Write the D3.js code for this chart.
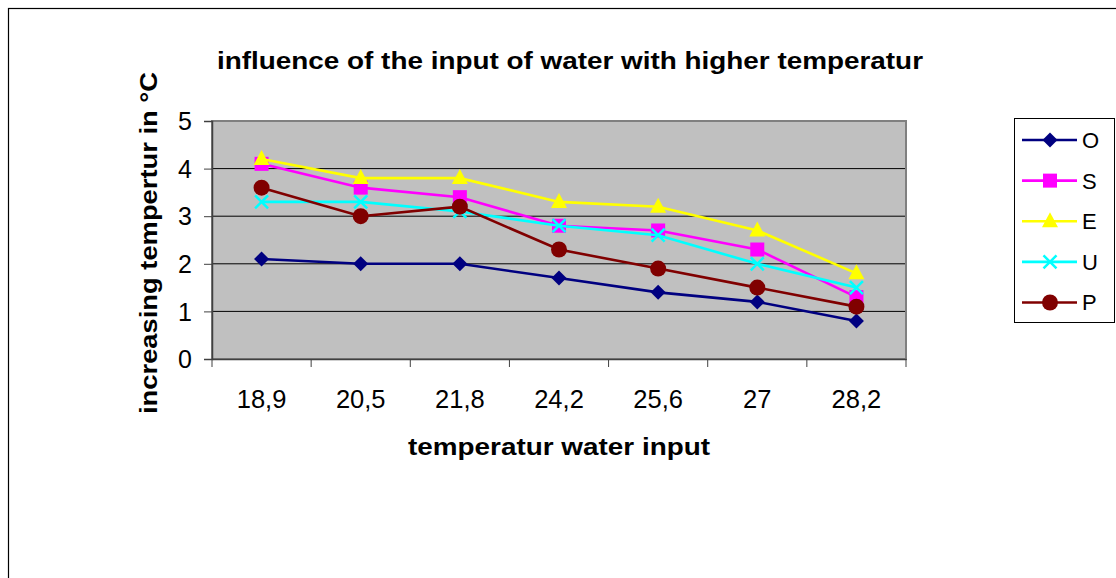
<!DOCTYPE html>
<html><head><meta charset="utf-8">
<script src="https://cdn.jsdelivr.net/npm/d3@7"></script>
<style>body{margin:0;background:#fff}svg{display:block;font-family:"Liberation Sans",Arial,sans-serif}</style>
</head><body>
<svg id="c" width="1116" height="578"></svg>
<script>
const categories = ["18,9","20,5","21,8","24,2","25,6","27","28,2"];
const seriesNames = ["O","S","E","U","P"];
const O = [2.1,2.0,2.0,1.7,1.4,1.2,0.8];
const S = [4.1,3.6,3.4,2.8,2.7,2.3,1.3];
const E = [4.2,3.8,3.8,3.3,3.2,2.7,1.8];
const U = [3.3,3.3,3.1,2.8,2.6,2.0,1.5];
const P = [3.6,3.0,3.2,2.3,1.9,1.5,1.1];
const yTicks = [0,1,2,3,4,5];
const titleText = "influence of the input of water with higher temperatur";
const xTitle = "temperatur water input";
const yTitle = "increasing tempertur in °C";

const seriesValues = [O,S,E,U,P];
const colors = ["#000080","#FF00FF","#FFFF00","#00FFFF","#800000"];
const shapes = ["diamond","square","triangle","x","circle"];
const FONT = "Liberation Sans, Arial, sans-serif";

const svg = d3.select("#c");
const L=212, R=906, T=121, B=359;
const x = d3.scaleBand().domain(categories).range([L,R]);
const y = d3.scaleLinear().domain([0,5]).range([B,T]);

// outer frame
svg.append("rect").attr("x",8.5).attr("y",8.5).attr("width",1200).attr("height",700)
  .attr("fill","none").attr("stroke","#000").attr("stroke-width",1.2);

// plot bg
svg.append("rect").attr("x",L).attr("y",T).attr("width",R-L).attr("height",B-T).attr("fill","#C0C0C0");
// gridlines
svg.append("g").selectAll("line").data(yTicks.filter(d=>d>0&&d<5)).join("line")
  .attr("x1",L).attr("x2",R).attr("y1",d=>y(d)).attr("y2",d=>y(d)).attr("stroke","#000").attr("stroke-width",1);
// plot border
svg.append("rect").attr("x",L).attr("y",T).attr("width",R-L).attr("height",B-T)
  .attr("fill","none").attr("stroke","#808080").attr("stroke-width",2);

// axes
const yAxis = d3.axisLeft(y).tickValues(yTicks).tickSize(8).tickPadding(12).tickFormat(d3.format("d"));
const gy = svg.append("g").attr("transform",`translate(${L},0)`).call(yAxis);
gy.select(".domain").attr("stroke","#404040").attr("stroke-width",1.5);
gy.selectAll(".tick line").attr("stroke","#404040");
gy.selectAll("text").attr("font-size",25).attr("fill","#000").attr("font-family",FONT).attr("dy","0.35em");

const xAxis = d3.axisBottom(x).tickSize(0).tickPadding(0);
const gx = svg.append("g").attr("transform",`translate(0,${B})`).call(xAxis);
gx.select(".domain").attr("stroke","#404040").attr("stroke-width",1.5);
gx.selectAll("text").attr("font-size",25.5).attr("fill","#000").attr("font-family",FONT).attr("y",49).attr("dy",null);
// category boundary ticks
const bounds = categories.map(c=>x(c)).concat([x(categories[categories.length-1])+x.bandwidth()]);
svg.append("g").selectAll("line").data(bounds).join("line")
  .attr("x1",d=>d).attr("x2",d=>d).attr("y1",B).attr("y2",B+8).attr("stroke","#404040").attr("stroke-width",1);

function marker(g, shape, color, cx, cy){
  if(shape==="diamond"){
    g.append("path").attr("d",`M${cx},${cy-7.5}L${cx+7.5},${cy}L${cx},${cy+7.5}L${cx-7.5},${cy}Z`).attr("fill",color);
  } else if(shape==="square"){
    g.append("rect").attr("x",cx-7).attr("y",cy-7).attr("width",14).attr("height",14).attr("fill",color);
  } else if(shape==="triangle"){
    g.append("path").attr("d",`M${cx},${cy-9}L${cx+8},${cy+6}L${cx-8},${cy+6}Z`).attr("fill",color);
  } else if(shape==="x"){
    g.append("path").attr("d",`M${cx-6.5},${cy-6.5}L${cx+6.5},${cy+6.5}M${cx+6.5},${cy-6.5}L${cx-6.5},${cy+6.5}`).attr("stroke",color).attr("stroke-width",2.5).attr("fill","none");
  } else {
    g.append("circle").attr("cx",cx).attr("cy",cy).attr("r",8).attr("fill",color);
  }
}

const line = d3.line().x((d,i)=>x(categories[i])+x.bandwidth()/2).y(d=>y(d));
seriesValues.forEach((vals,si)=>{
  const g = svg.append("g");
  g.append("path").attr("d",line(vals)).attr("fill","none").attr("stroke",colors[si]).attr("stroke-width",2.6);
  vals.forEach((v,i)=>marker(g,shapes[si],colors[si],x(categories[i])+x.bandwidth()/2,y(v)));
});

// titles
svg.append("text").attr("x",570).attr("y",69).attr("text-anchor","middle").attr("font-size",24.5).attr("font-weight","bold")
  .attr("textLength",706).attr("lengthAdjust","spacingAndGlyphs").text(titleText);
svg.append("text").attr("x",559).attr("y",455).attr("text-anchor","middle").attr("font-size",24.5).attr("font-weight","bold")
  .attr("textLength",302).attr("lengthAdjust","spacingAndGlyphs").text(xTitle);
svg.append("text").attr("transform","translate(157,243) rotate(-90)").attr("text-anchor","middle").attr("font-size",24.5).attr("font-weight","bold")
  .attr("textLength",342).attr("lengthAdjust","spacingAndGlyphs").text(yTitle);

// legend
const lg = svg.append("g");
lg.append("rect").attr("x",1014.5).attr("y",118.5).attr("width",100).attr("height",204).attr("fill","#fff").attr("stroke","#000").attr("stroke-width",1);
const ly = d3.scalePoint().domain(seriesNames).range([140,302.5]);
seriesNames.forEach((n,si)=>{
  const yy = ly(n);
  lg.append("line").attr("x1",1022).attr("x2",1077).attr("y1",yy).attr("y2",yy).attr("stroke",colors[si]).attr("stroke-width",2.6);
  marker(lg,shapes[si],colors[si],1050,yy);
  lg.append("text").attr("x",1082).attr("y",yy).attr("dy","0.36em").attr("font-size",22).text(n);
});
</script>
</body></html>
